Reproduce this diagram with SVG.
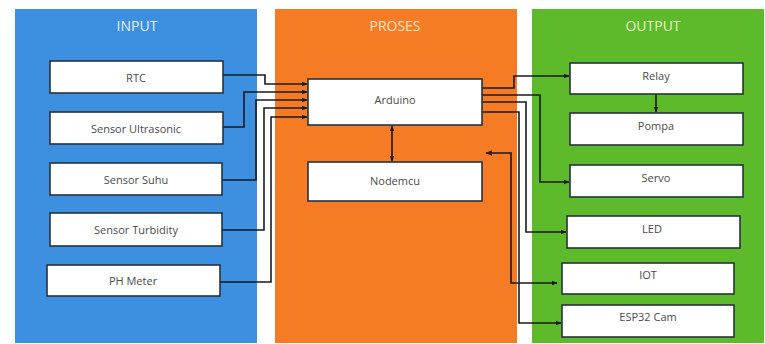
<svg xmlns="http://www.w3.org/2000/svg" width="765" height="344" viewBox="0 0 765 344">
<defs>
<style>
.box{fill:#ffffff;stroke:#26323d;stroke-width:1.6}
.lbl{font-family:"Open Sans","Liberation Sans",sans-serif;font-size:11px;fill:#4a4a4a;text-anchor:middle;dominant-baseline:central}
.ttl{font-family:"Open Sans","Liberation Sans",sans-serif;font-size:14px;text-anchor:middle;dominant-baseline:central}
.ln{fill:none;stroke:#1a1a22;stroke-width:1.6}
</style>
<marker id="ah" viewBox="0 0 10 10" refX="9" refY="5" markerWidth="6" markerHeight="6" orient="auto-start-reverse" markerUnits="userSpaceOnUse">
<path d="M0,1 L10,5 L0,9 z" fill="#1a1a22"/>
</marker>
<marker id="ahr" viewBox="0 0 10 10" refX="9" refY="5" markerWidth="7" markerHeight="7" orient="auto-start-reverse" markerUnits="userSpaceOnUse">
<path d="M0,1 L10,5 L0,9 z" fill="#4a1606"/>
</marker>
</defs>
<rect width="765" height="344" fill="#ffffff"/>
<g id="panel-input">
<rect x="15" y="9" width="242" height="334" fill="#3d8fe0"/>
<text class="ttl" x="137" y="25" fill="#e8eef6">INPUT</text>
</g>
<g id="panel-proses">
<rect x="275" y="9" width="242" height="334" fill="#f57b25"/>
<text class="ttl" x="395" y="25" fill="#fde3cc">PROSES</text>
</g>
<g id="panel-output">
<rect x="532" y="9" width="232" height="334" fill="#5dba2b"/>
<text class="ttl" x="653" y="25" fill="#e6f5c8">OUTPUT</text>
</g>
<g id="connectors">
<path class="ln" d="M223,75 H265 V84 H307" marker-end="url(#ah)"/>
<path class="ln" d="M223,127 H244 V92 H307" marker-end="url(#ah)"/>
<path class="ln" d="M222,180 H256 V100 H307" marker-end="url(#ah)"/>
<path class="ln" d="M222,230 H264 V108 H307" marker-end="url(#ah)"/>
<path class="ln" d="M220,282 H271 V117 H307" marker-end="url(#ah)"/>
<path class="ln" d="M392,126 V161" marker-start="url(#ah)" marker-end="url(#ah)"/>
<path class="ln" d="M482,88 H514 V76 H569" marker-end="url(#ah)"/>
<path class="ln" d="M656,94 V112" marker-end="url(#ah)"/>
<path class="ln" d="M482,95 H540 V182 H569" marker-end="url(#ah)"/>
<path class="ln" d="M482,102 H526 V232 H566" marker-end="url(#ah)"/>
<path class="ln" d="M482,112 H519 V323 H561" marker-end="url(#ah)"/>
<path class="ln" d="M486,153 H511 V283 H557" stroke="#3a1206" marker-start="url(#ahr)" marker-end="url(#ah)"/>
</g>
<g id="node-rtc"><rect class="box" x="50" y="61" width="173" height="32"/><text class="lbl" x="136" y="77">RTC</text></g>
<g id="node-ultrasonic"><rect class="box" x="50" y="112" width="173" height="32"/><text class="lbl" x="136" y="128">Sensor Ultrasonic</text></g>
<g id="node-suhu"><rect class="box" x="50" y="163" width="172" height="32"/><text class="lbl" x="136" y="179">Sensor Suhu</text></g>
<g id="node-turbidity"><rect class="box" x="50" y="213" width="172" height="33"/><text class="lbl" x="136" y="229">Sensor Turbidity</text></g>
<g id="node-ph"><rect class="box" x="47" y="265" width="173" height="31"/><text class="lbl" x="133" y="280">PH Meter</text></g>
<g id="node-arduino"><rect class="box" x="308" y="79" width="174" height="46"/><text class="lbl" x="395" y="99">Arduino</text></g>
<g id="node-nodemcu"><rect class="box" x="308" y="162" width="174" height="39"/><text class="lbl" x="395" y="180">Nodemcu</text></g>
<g id="node-relay"><rect class="box" x="570" y="63" width="173" height="31"/><text class="lbl" x="656" y="75">Relay</text></g>
<g id="node-pompa"><rect class="box" x="570" y="113" width="173" height="32"/><text class="lbl" x="656" y="125">Pompa</text></g>
<g id="node-servo"><rect class="box" x="570" y="165" width="173" height="32"/><text class="lbl" x="656" y="177">Servo</text></g>
<g id="node-led"><rect class="box" x="567" y="216" width="173" height="32"/><text class="lbl" x="652" y="228">LED</text></g>
<g id="node-iot"><rect class="box" x="562" y="263" width="172" height="31"/><text class="lbl" x="648" y="274">IOT</text></g>
<g id="node-esp32"><rect class="box" x="562" y="305" width="172" height="32"/><text class="lbl" x="648" y="316">ESP32 Cam</text></g>
</svg>
